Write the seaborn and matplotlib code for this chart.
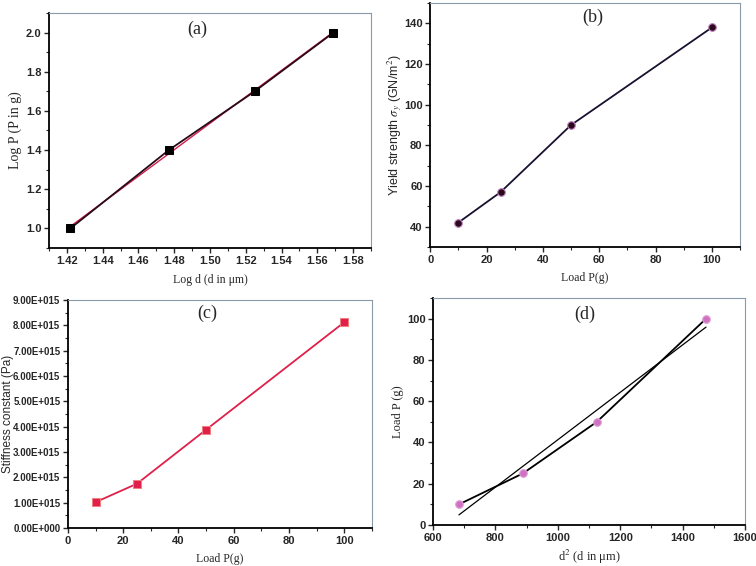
import numpy as np
import pandas as pd
import matplotlib
matplotlib.use("Agg")
import matplotlib.pyplot as plt
import seaborn as sns
from matplotlib.ticker import MultipleLocator, AutoMinorLocator, FuncFormatter

# ---- data ----
log_d = [1.422, 1.477, 1.525, 1.569]
log_p = [1.0, 1.4, 1.7, 2.0]

load_b = [10, 25, 50, 100]
yield_strength = [42, 57, 90, 138]

load_c = [10, 25, 50, 100]
stiffness = [1.02e15, 1.75e15, 3.88e15, 8.12e15]

d_sq = [683, 888, 1125, 1475]
load_d = [10, 25, 50, 100]

panel_labels = ["(a)", "(b)", "(c)", "(d)"]

sns.set_theme(style="ticks")
plt.rcParams['font.family'] = ['Liberation Sans', 'DejaVu Sans']
plt.rcParams['mathtext.fontset'] = 'stix'

fig = plt.figure(figsize=(7.56, 5.66), dpi=100)
axa = fig.add_axes([0.0648, 0.562, 0.426, 0.415])
axb = fig.add_axes([0.569, 0.5636, 0.410, 0.431])
axc = fig.add_axes([0.0899, 0.0671, 0.402, 0.403])
axd = fig.add_axes([0.5728, 0.0724, 0.4127, 0.401])

serif = ['Liberation Serif', 'DejaVu Serif']

def style(ax, ysize=8):
    for s in ['left', 'bottom']:
        ax.spines[s].set_color('black')
        ax.spines[s].set_linewidth(1.3)
    for s in ['top', 'right']:
        ax.spines[s].set_color('#8a9aa8')
        ax.spines[s].set_linewidth(0.8)
    ax.tick_params(axis='both', which='major', direction='out', length=3.5, width=1.0,
                   labelsize=8, pad=2, top=False, right=False)
    ax.tick_params(axis='y', labelsize=ysize)
    ax.tick_params(axis='both', which='minor', direction='out', length=2, width=0.8,
                   top=False, right=False)
    for lab in ax.get_xticklabels() + ax.get_yticklabels():
        lab.set_fontweight('bold')
    ax.xaxis.set_minor_locator(AutoMinorLocator(2))
    ax.yaxis.set_minor_locator(AutoMinorLocator(2))

# (a)
dfa = pd.DataFrame({'x': log_d, 'y': log_p})
sns.regplot(data=dfa, x='x', y='y', ax=axa, scatter=False, ci=None, truncate=True,
            line_kws=dict(color='#d0204a', lw=1.0))
sns.lineplot(data=dfa, x='x', y='y', ax=axa, color='#2a0a1a', lw=1.3, marker='s',
             markersize=5.5, markerfacecolor='black', markeredgecolor='black')
axa.set_xlim(1.41, 1.59)
axa.set_ylim(0.9, 2.1)
axa.xaxis.set_major_locator(MultipleLocator(0.02))
axa.yaxis.set_major_locator(MultipleLocator(0.2))
axa.xaxis.set_major_formatter(FuncFormatter(lambda v, p: f"{v:.2f}"))
axa.yaxis.set_major_formatter(FuncFormatter(lambda v, p: f"{v:.1f}"))
axa.set_xlabel("Log d (d in μm)", family=serif, fontsize=8.5)
axa.set_ylabel("Log P (P in g)", family=serif, fontsize=10)
axa.xaxis.set_label_coords(0.5, -0.111)
axa.yaxis.set_label_coords(-0.085, 0.5)

# (b)
dfb = pd.DataFrame({'x': load_b, 'y': yield_strength})
sns.lineplot(data=dfb, x='x', y='y', ax=axb, color='#1a1030', lw=1.3, marker='o',
             markersize=5.5, markerfacecolor='#2a0a1a', markeredgecolor='#c080c0', markeredgewidth=0.8)
axb.set_xlim(0, 110)
axb.set_ylim(30, 150)
axb.xaxis.set_major_locator(MultipleLocator(20))
axb.yaxis.set_major_locator(MultipleLocator(20))
axb.set_xlabel("Load P(g)", family=serif, fontsize=8.5)
axb.set_ylabel(r"Yield strength $\sigma_y$ (GN/m$^2$)", fontsize=9)
axb.xaxis.set_label_coords(0.5, -0.102)
axb.yaxis.set_label_coords(-0.086, 0.5)

# (c)
dfc = pd.DataFrame({'x': load_c, 'y': stiffness})
sns.lineplot(data=dfc, x='x', y='y', ax=axc, color='#e0204a', lw=1.3, marker='s',
             markersize=5.5, markerfacecolor='#e0204a', markeredgecolor='#f08080')
axc.set_xlim(0, 110)
axc.set_ylim(0, 9e15)
axc.xaxis.set_major_locator(MultipleLocator(20))
axc.yaxis.set_major_locator(MultipleLocator(1e15))
axc.yaxis.set_major_formatter(FuncFormatter(lambda v, p: f"{v/1e15:.2f}E+015" if abs(v) > 1 else "0.00E+000"))
axc.set_xlabel("Load P(g)", family=serif, fontsize=8.5)
axc.set_ylabel("Stiffness constant (Pa)", fontsize=8.5)
axc.xaxis.set_label_coords(0.5, -0.110)
axc.yaxis.set_label_coords(-0.178, 0.5)

# (d)
dfd = pd.DataFrame({'x': d_sq, 'y': load_d})
sns.regplot(data=dfd, x='x', y='y', ax=axd, scatter=False, ci=None, truncate=True,
            line_kws=dict(color='black', lw=0.9))
sns.lineplot(data=dfd, x='x', y='y', ax=axd, color='black', lw=1.3, marker='o',
             markersize=5.5, markerfacecolor='#d070c0', markeredgecolor='#e0a0d8', markeredgewidth=0.8)
axd.set_xlim(600, 1600)
axd.set_ylim(0, 110)
axd.xaxis.set_major_locator(MultipleLocator(200))
axd.yaxis.set_major_locator(MultipleLocator(20))
axd.set_xlabel(r"d$^2$ (d in μm)", family=serif, fontsize=9)
axd.set_ylabel("Load P (g)", family=serif, fontsize=9)
axd.xaxis.set_label_coords(0.5, -0.102)
axd.yaxis.set_label_coords(-0.094, 0.5)

pos = [(0.46, 0.93), (0.526, 0.94), (0.457, 0.94), (0.487, 0.93)]
for ax, lab, (px, py), ys in zip([axa, axb, axc, axd], panel_labels, pos, [8, 8, 7.0, 8]):
    style(ax, ys)
    ax.text(px, py, lab, transform=ax.transAxes, ha='center', va='center',
            family=serif, fontsize=13)

fig.savefig("out.png", dpi=100)
